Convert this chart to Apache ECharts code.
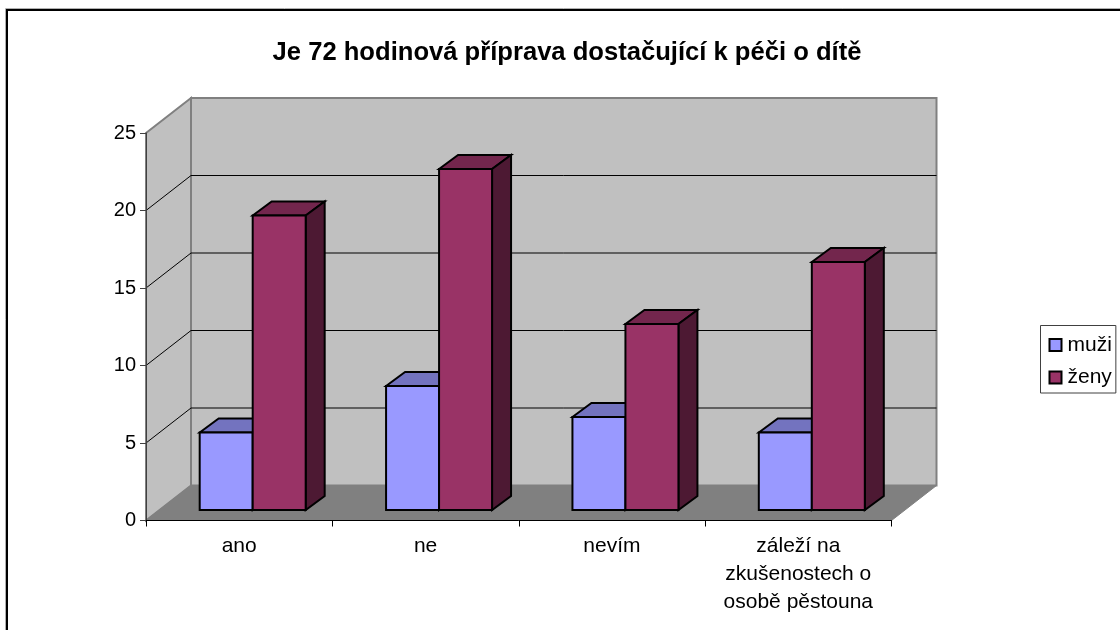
<!DOCTYPE html>
<html>
<head>
<meta charset="utf-8">
<script src="https://cdn.jsdelivr.net/npm/echarts@6/dist/echarts.min.js"></script>
<style>
  html, body { margin: 0; padding: 0; background: #fff; }
  #main { width: 1120px; height: 630px; }
</style>
</head>
<body>
<div id="main"></div>
<script>
const titleText = 'Je 72 hodinová příprava dostačující k péči o dítě';
const categories = ['ano', 'ne', 'nevím', 'záleží na\nzkušenostech o\nosobě pěstouna'];
const seriesNames = ['muži', 'ženy'];
const muzi = [5, 8, 6, 5];
const zeny = [19, 22, 12, 16];
const yTicks = [0, 5, 10, 15, 20, 25];

// 3D look: offset of back wall and of the bars from the front plane (px)
const wallDx = 45, wallDy = -35;
const barShiftX = 13.5, barShiftY = -10.5;
const barDepthX = 19, barDepthY = -14;
const barWidthRatio = 53 / 186.4;

const chart = echarts.init(document.getElementById('main'));

function poly(points, fill, stroke, lw) {
  return {
    type: 'polygon',
    shape: { points: points },
    style: { fill: fill, stroke: stroke || null, lineWidth: lw || 0 }
  };
}

function line(a, b, color, lw) {
  return {
    type: 'polyline',
    shape: { points: [a, b] },
    style: { fill: null, stroke: color, lineWidth: lw || 1 }
  };
}

// walls, floor and gridlines
function renderWalls(params, api) {
  const n = categories.length;
  const band = api.size([1, 0])[0];
  const x0 = api.coord([0, 0])[0] - band / 2;
  const x1 = x0 + band * n;
  const yb = api.coord([0, 0])[1];
  const yt = api.coord([0, 25])[1];
  const kids = [
    poly([[x0 + wallDx, yt + wallDy], [x1 + wallDx, yt + wallDy], [x1 + wallDx, yb + wallDy], [x0 + wallDx, yb + wallDy]], '#c0c0c0', '#808080', 2),
    poly([[x0, yt], [x0 + wallDx, yt + wallDy], [x0 + wallDx, yb + wallDy], [x0, yb]], '#c0c0c0', '#808080', 2),
    poly([[x0, yb], [x1, yb], [x1 + wallDx, yb + wallDy], [x0 + wallDx, yb + wallDy]], '#808080', '#808080', 1)
  ];
  yTicks.slice(1, -1).forEach(function (v) {
    const y = api.coord([0, v])[1];
    kids.push(line([x0, y], [x0 + wallDx, y + wallDy], '#000', 1));
    kids.push(line([x0 + wallDx, y + wallDy], [x1 + wallDx, y + wallDy], '#000', 1));
  });
  return { type: 'group', children: kids };
}

// one 3D bar: front, top and side faces
function makeBar(offsetIndex, front, top, side) {
  return function (params, api) {
    const idx = api.value(0);
    const c = api.coord([idx, api.value(1)]);
    const b = api.coord([idx, 0]);
    const band = api.size([1, 0])[0];
    const w = band * barWidthRatio;
    const xl = c[0] + (offsetIndex - 1) * w + barShiftX;
    const xr = xl + w;
    const yt = c[1] + barShiftY;
    const yb = b[1] + barShiftY;
    const dx = barDepthX, dy = barDepthY;
    return {
      type: 'group',
      children: [
        poly([[xl, yt], [xl + dx, yt + dy], [xr + dx, yt + dy], [xr, yt]], top, '#000', 2),
        poly([[xr, yt], [xr + dx, yt + dy], [xr + dx, yb + dy], [xr, yb]], side, '#000', 2),
        poly([[xl, yt], [xr, yt], [xr, yb], [xl, yb]], front, '#000', 2)
      ]
    };
  };
}

const option = {
  animation: false,
  backgroundColor: '#fff',
  textStyle: { fontFamily: '"Liberation Sans", Arial, sans-serif' },
  title: {
    text: titleText,
    left: 562,
    top: 35,
    textAlign: 'center',
    textStyle: { fontSize: 25.6, fontWeight: 'bold', color: '#000', fontFamily: '"Liberation Sans", Arial, sans-serif' }
  },
  // chart frame, right and bottom edges fall outside the picture
  graphic: [
    {
      type: 'rect',
      silent: true,
      shape: { x: 5.5, y: 8.5, width: 1300, height: 800 },
      style: { fill: null, stroke: '#b0b0b0', lineWidth: 1 },
      z: 99
    },
    {
      type: 'rect',
      silent: true,
      shape: { x: 7, y: 10, width: 1300, height: 800 },
      style: { fill: null, stroke: '#000', lineWidth: 2 },
      z: 100
    }
  ],
  legend: {
    data: seriesNames,
    orient: 'vertical',
    left: 1040.5,
    top: 325.5,
    itemWidth: 12,
    itemHeight: 12,
    itemGap: 11.5,
    padding: [9, 4, 5, 8],
    borderColor: '#404040',
    borderWidth: 1,
    backgroundColor: '#fff',
    icon: 'rect',
    selectedMode: false,
    textStyle: { fontSize: 21, color: '#000', padding: [0, 0, 0, 1] }
  },
  grid: { left: 146, right: 228.5, top: 133, bottom: 109.5 },
  xAxis: {
    type: 'category',
    data: categories,
    z: 5,
    axisLine: { show: true, lineStyle: { color: '#000', width: 1 } },
    axisTick: { show: true, alignWithLabel: false, length: 6, lineStyle: { color: '#000' } },
    axisLabel: { color: '#000', fontSize: 21, lineHeight: 28, margin: 12, interval: 0 },
    splitLine: { show: false }
  },
  yAxis: {
    type: 'value',
    min: 0,
    max: 25,
    interval: 5,
    z: 5,
    axisLine: { show: true, lineStyle: { color: '#404040', width: 1 } },
    axisTick: { show: true, length: 6, lineStyle: { color: '#404040' } },
    axisLabel: { color: '#000', fontSize: 20, margin: 10 },
    splitLine: { show: false }
  },
  series: [
    {
      type: 'custom',
      name: 'walls',
      silent: true,
      z: 1,
      renderItem: renderWalls,
      data: [[0, 0]],
      encode: { x: 0, y: 1 }
    },
    {
      type: 'custom',
      name: seriesNames[0],
      z: 2,
      itemStyle: { color: '#9999ff', borderColor: '#000', borderWidth: 2 },
      renderItem: makeBar(0, '#9999ff', '#7373bf', '#4d4d80'),
      data: muzi.map(function (v, i) { return [i, v]; }),
      encode: { x: 0, y: 1 }
    },
    {
      type: 'custom',
      name: seriesNames[1],
      z: 3,
      itemStyle: { color: '#993366', borderColor: '#000', borderWidth: 2 },
      renderItem: makeBar(1, '#993366', '#73264d', '#4d1933'),
      data: zeny.map(function (v, i) { return [i, v]; }),
      encode: { x: 0, y: 1 }
    }
  ]
};

chart.setOption(option);
</script>
</body>
</html>
